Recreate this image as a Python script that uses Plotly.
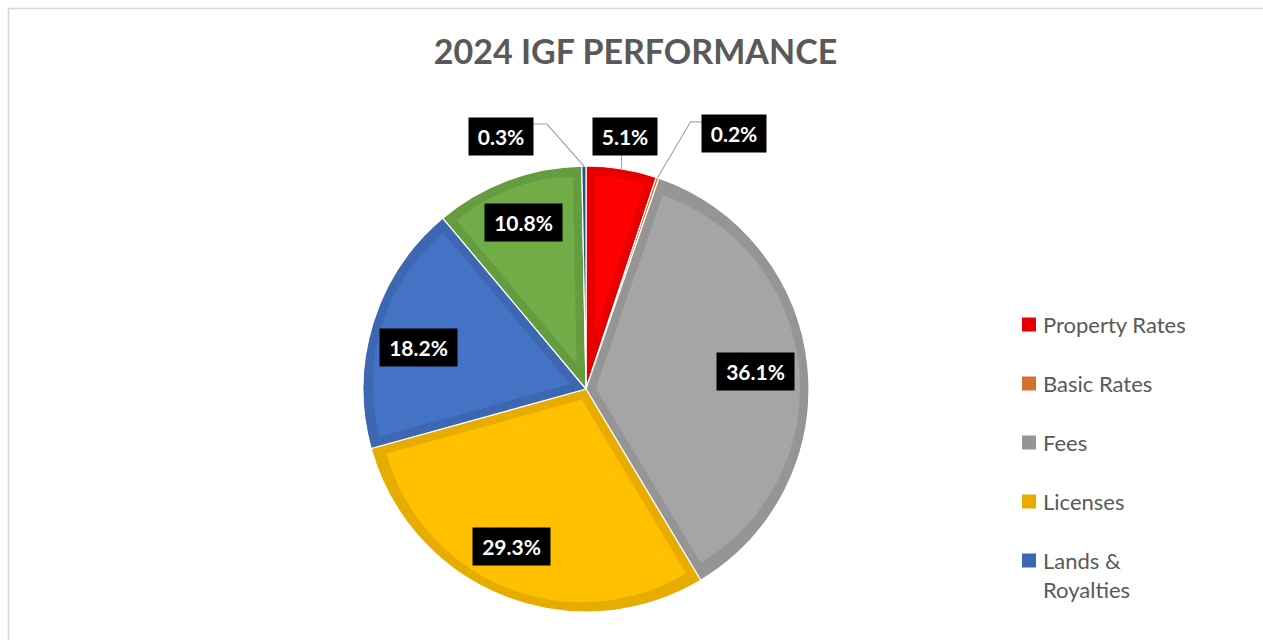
import math
import plotly.graph_objects as go

# ---------------- data ----------------
labels = ["Property Rates", "Basic Rates", "Fees", "Licenses",
          "Lands & Royalties", "Others", "Miscellaneous"]
shares = [5.1, 0.2, 36.1, 29.3, 18.2, 10.8, 0.3]
title_text = "2024 IGF PERFORMANCE"

# ---------------- styles ----------------
fill_colors = ["#FF0000", "#ED7D31", "#A5A5A5", "#FFC000", "#4472C4", "#70AD47", "#255E91"]
edge_colors = ["#E60000", "#D5712C", "#959595", "#E6AD00", "#3D67B0", "#659C40", "#215583"]
FONT = "Lato, 'Open Sans', sans-serif"
TEXT_GREY = "#595959"
TRANSPARENT = "rgba(0,0,0,0)"

W, H = 1263, 640
CX, CY, R = 586, 389, 223          # pie centre / radius in pixels
BAND = 9                            # inner darker border of each slice, px
MIN_BAND_SHARE = 1.0                # slices thinner than this show only the edge shade
LEGEND_X, LEGEND_Y0, LEGEND_STEP, LEGEND_SQ = 1022, 324.5, 59, 14
LEGEND_VISIBLE = 5                  # remaining entries fall below the visible frame
INSIDE_LABEL_R = 0.775
# small pixel nudges of inside labels (as placed by the original chart)
label_nudge = {"Lands & Royalties": (-2, 10), "Licenses": (-10, -3), "Others": (-2, -5), "Fees": (-2, 0)}
# callouts for thin slices: (box centre offset, elbow offset) relative to the slice edge point, px
callouts = {
    "Property Rates": ((3, -32.5), None),
    "Basic Rates": ((76.5, -44), (33, -56)),
    "Miscellaneous": ((-82.5, -29.5), (-37, -42)),
}
LEADER_COLOR = "#A6A6A6"


def px_to_paper(x, y):
    return x / W, 1 - y / H


def domain_for(half):
    x0, y1 = px_to_paper(CX - half, CY - half)
    x1, y0 = px_to_paper(CX + half, CY + half)
    return dict(x=[x0, x1], y=[y0, y1])


fig = go.Figure()
total = sum(shares)

# base pie: darker edge shade with thin white separators
fig.add_trace(go.Pie(
    labels=labels, values=shares, sort=False, direction="clockwise", rotation=0,
    domain=domain_for(R), textinfo="none", showlegend=False,
    marker=dict(colors=edge_colors, line=dict(color="white", width=1.2)),
    hovertemplate="%{label}: %{value}%<extra></extra>",
))

# one inset copy per slice: the slice is pulled along its bisector so that the
# darker base shows as an even band of BAND px along every edge
for i, v in enumerate(shares):
    if v < MIN_BAND_SHARE:
        continue
    half_angle = v / total * math.pi
    d = BAND / math.sin(half_angle)
    r_slice = (R - BAND) - d
    pulls = [0.0] * len(shares)
    pulls[i] = d / r_slice
    colors = [TRANSPARENT] * len(shares)
    colors[i] = fill_colors[i]
    fig.add_trace(go.Pie(
        labels=labels, values=shares, sort=False, direction="clockwise", rotation=0,
        domain=domain_for(R - BAND), textinfo="none", showlegend=False,
        pull=pulls, hoverinfo="skip",
        marker=dict(colors=colors, line=dict(width=0)),
    ))

annotations, shapes = [], []
cum = 0.0
for lab, v in zip(labels, shares):
    mid = (cum + v / 2) / total * 2 * math.pi
    cum += v
    txt = f"{v:.1f}%"
    bw, bh, pad = 13 * len(txt) + 4, 29, 4
    box = dict(text=f"<b>{txt}</b>", font=dict(family=FONT, size=21, color="white"),
               bgcolor="black", borderpad=pad, width=bw, height=bh,
               xref="paper", yref="paper", showarrow=False,
               xanchor="center", yanchor="middle")
    if lab in callouts:
        ex, ey = CX + R * math.sin(mid), CY - R * math.cos(mid)
        (bdx, bdy), elbow = callouts[lab]
        bx, by = ex + bdx, ey + bdy
        half_w, half_h = bw / 2 + pad, bh / 2 + pad
        if elbow is None:
            pts = [(ex, ey), (ex, by + half_h)]
        else:
            kx, ky = ex + elbow[0], ey + elbow[1]
            side = bx + half_w if bx < kx else bx - half_w
            pts = [(ex, ey), (kx, ky), (side, ky)]
        path = " ".join(("M" if j == 0 else "L") + "{:.5f},{:.5f}".format(*px_to_paper(*p))
                        for j, p in enumerate(pts))
        shapes.append(dict(type="path", xref="paper", yref="paper", path=path,
                           line=dict(color=LEADER_COLOR, width=1.2)))
        px, py = px_to_paper(bx, by)
    else:
        rr = INSIDE_LABEL_R * R
        nx, ny = label_nudge.get(lab, (0, 0))
        px, py = px_to_paper(CX + rr * math.sin(mid) + nx, CY - rr * math.cos(mid) + ny)
    annotations.append(dict(box, x=px, y=py))

# legend (drawn manually, as in the original chart)
for i in range(LEGEND_VISIBLE):
    yc = LEGEND_Y0 + LEGEND_STEP * i
    x0, y0 = px_to_paper(LEGEND_X, yc + LEGEND_SQ / 2)
    x1, y1 = px_to_paper(LEGEND_X + LEGEND_SQ, yc - LEGEND_SQ / 2)
    shapes.append(dict(type="rect", xref="paper", yref="paper", x0=x0, x1=x1, y0=y0, y1=y1,
                       fillcolor=edge_colors[i], line=dict(width=0)))
    tx, ty = px_to_paper(LEGEND_X + LEGEND_SQ + 5, yc - 16)
    annotations.append(dict(text=labels[i].replace("& ", "&<br>"), x=tx, y=ty,
                            xref="paper", yref="paper", showarrow=False,
                            xanchor="left", yanchor="top", align="left",
                            font=dict(family=FONT, size=22, color=TEXT_GREY)))

# chart frame
fx0, fy1 = px_to_paper(8.5, 8.5)
shapes.append(dict(type="rect", xref="paper", yref="paper", x0=fx0, x1=1.05, y0=-0.1, y1=fy1,
                   line=dict(color="#D9D9D9", width=1.5), fillcolor=TRANSPARENT, layer="below"))

fig.update_layout(
    width=W, height=H, margin=dict(l=0, r=0, t=0, b=0),
    paper_bgcolor="white", plot_bgcolor="white",
    title=dict(text=title_text, x=635.5 / W, xanchor="center", y=1 - 52 / H, yanchor="middle",
               font=dict(family=FONT, size=34, color=TEXT_GREY, weight="bold")),
    annotations=annotations, shapes=shapes, showlegend=False,
)

fig.write_html("out.html", config={"displayModeBar": False},
               post_script="document.body.style.margin='0px';")
